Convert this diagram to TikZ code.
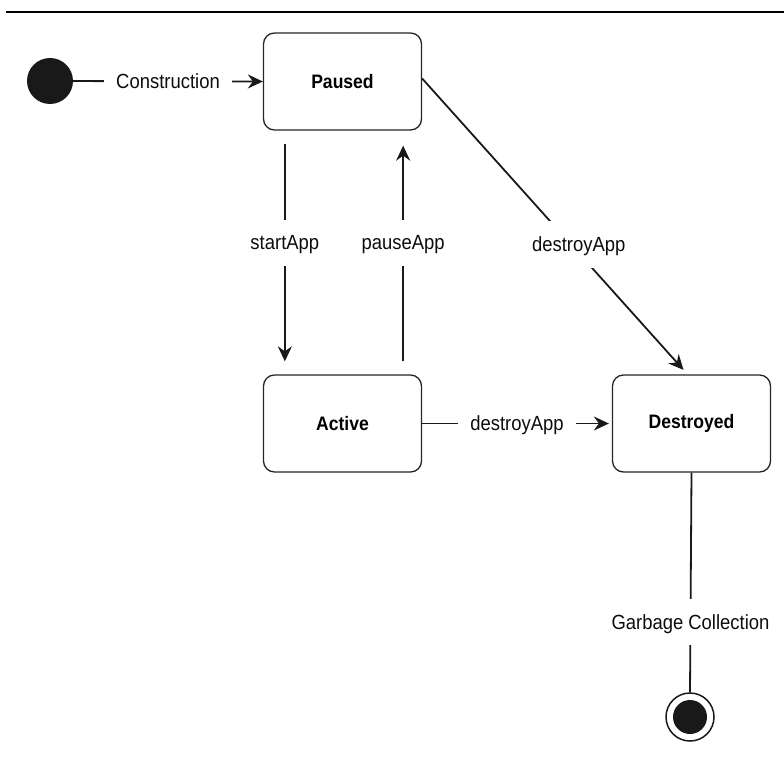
\documentclass[tikz,border=0pt]{standalone}
\usepackage{fontspec}
\setmainfont{Liberation Sans}[FakeStretch=0.9]
\usetikzlibrary{arrows.meta}
\begin{document}
\begin{tikzpicture}[x=1pt,y=-1pt,
  state/.style={draw=black!85, line width=1.3pt, rounded corners=11pt, minimum width=158pt, minimum height=97pt, font=\fontsize{19.5}{22}\selectfont\bfseries},
  conn/.style={line width=1.8pt, black!90},
  arr/.style={conn, -{Stealth[length=15pt,width=14pt,inset=5pt]}},
  lbl/.style={fill=white, inner sep=0pt, minimum width=0pt, text depth=0pt, font=\fontsize{20.5}{24}\selectfont, text=black!95}]
\useasboundingbox (0,0) rectangle (784,770);
\draw[line width=2pt] (6,12) -- (784,12);
\node[circle, fill=black!90, minimum size=46pt, inner sep=0pt] (init) at (50,81) {};
\node[state] (paused) at (342.5,81.5) {Paused};
\node[state] (active) at (342.5,423.5) {Active};
\node[state] (destroyed) at (691.5,423.5) {Destroyed};
\node[circle, draw=black!90, line width=1.5pt, minimum size=48pt, inner sep=0pt] (final) at (690,717) {};
\node[circle, fill=black!90, minimum size=34pt, inner sep=0pt] (finalcore) at (final) {};
% Construction
\draw[arr] (init) -- node[lbl, inner xsep=12pt]{Construction} (paused.west);
% startApp
\draw[arr, shorten <=13pt, shorten >=13pt] ([xshift=22pt]paused.south west) -- node[lbl, pos=0.46, inner ysep=16pt]{startApp} ([xshift=22pt]active.north west);
% pauseApp
\draw[arr, shorten <=13pt, shorten >=15pt] ([xshift=-19pt]active.north east) -- node[lbl, pos=0.54, inner ysep=16pt]{pauseApp} ([xshift=-19pt]paused.south east);
% destroyApp diagonal
\draw[arr, shorten >=6pt] ([yshift=3pt]paused.east) -- node[lbl, pos=0.56, xshift=8pt, inner ysep=16pt, inner xsep=2pt]{destroyApp} ([xshift=-4pt]destroyed.north);
% destroyApp horizontal
\draw[arr, shorten >=3pt] (active.east) -- node[lbl, inner xsep=12pt]{destroyApp} (destroyed.west);
% Garbage collection
\draw[conn] (destroyed.south) -- node[lbl, pos=0.68, inner ysep=16pt]{Garbage Collection} (final.north);
\end{tikzpicture}
\end{document}
